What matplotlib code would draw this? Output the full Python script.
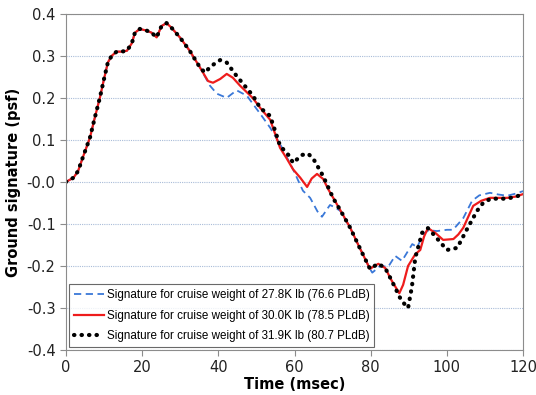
import numpy as np
import matplotlib.pyplot as plt

# shared front part of the signature (all three cases overlap here)
t_front = [0, 2, 3.2, 4.5, 6.3, 7.5, 8.9, 10, 11, 12, 13.3, 14.5, 16, 17.3, 18.1,
           19.4, 21.2, 22.5, 23.8, 25.1, 26.4, 27.7, 29.9, 32.5, 35.2]
p_front = [0, 0.01, 0.026, 0.06, 0.105, 0.15, 0.2, 0.245, 0.284, 0.30, 0.31, 0.31,
           0.312, 0.33, 0.355, 0.364, 0.36, 0.355, 0.344, 0.371, 0.378, 0.367,
           0.344, 0.312, 0.272]

# 27.8K lb
t_278 = [37.8, 39.6, 42.2, 44.8, 47.5, 51, 53.6, 56.5, 59.6, 62.2, 64.1, 66, 67.2,
         69.3, 70.5, 72, 74.6, 77, 79.8, 80.4, 82.5, 84.6, 86.4, 88.2, 90.9, 92.2,
         93.8, 95.2, 97.4, 100, 101.6, 104.3, 106.6, 108.5, 111.3, 113.5, 115.8,
         118, 120]
p_278 = [0.229, 0.21, 0.2, 0.218, 0.205, 0.162, 0.129, 0.085, 0.03, -0.021, -0.038,
         -0.07, -0.083, -0.055, -0.06, -0.069, -0.109, -0.155, -0.207, -0.216, -0.2,
         -0.202, -0.176, -0.188, -0.148, -0.155, -0.124, -0.115, -0.117, -0.114,
         -0.114, -0.086, -0.045, -0.032, -0.026, -0.03, -0.033, -0.028, -0.022]

# 30.0K lb
t_300 = [37.3, 38.6, 40.5, 42.2, 43.8, 45.7, 49, 51, 53.6, 56.2, 58, 59.6, 61.5,
         63.3, 64.5, 65.9, 67.5, 69, 70.6, 72.5, 74.6, 77, 79.8, 81, 82, 83.8, 85.5,
         87.5, 88.5, 89.8, 91.7, 93, 94, 95, 96.9, 99, 101.7, 103, 104.3, 106.9, 109,
         111.3, 115.8, 118, 120]
p_300 = [0.24, 0.236, 0.245, 0.257, 0.248, 0.229, 0.2, 0.176, 0.148, 0.081, 0.055,
         0.03, 0.01, -0.012, 0.008, 0.019, 0.007, -0.02, -0.045, -0.075, -0.109,
         -0.155, -0.207, -0.2, -0.195, -0.205, -0.235, -0.265, -0.245, -0.2, -0.172,
         -0.162, -0.13, -0.11, -0.121, -0.138, -0.136, -0.125, -0.109, -0.057,
         -0.045, -0.038, -0.038, -0.035, -0.029]

# 31.9K lb
t_319 = [36.5, 38, 40.5, 42.2, 44.8, 47, 49.1, 51, 53.6, 56.2, 58.8, 59.6, 61.9,
         63.6, 65, 67.5, 70.1, 72.5, 74.6, 77, 79.8, 81, 82, 83.8, 85.5, 87.7, 88.8,
         89.8, 90.8, 91.7, 93.5, 95, 96.5, 98.2, 100, 102.7, 105.3, 107.9, 109.5,
         111.5, 115.8, 118, 120]
p_319 = [0.26, 0.275, 0.29, 0.284, 0.252, 0.228, 0.205, 0.176, 0.157, 0.086, 0.06,
         0.045, 0.064, 0.067, 0.054, 0.014, -0.038, -0.075, -0.109, -0.155, -0.207,
         -0.2, -0.195, -0.205, -0.235, -0.276, -0.29, -0.30, -0.25, -0.18, -0.121,
         -0.11, -0.125, -0.143, -0.162, -0.157, -0.112, -0.069, -0.05, -0.04, -0.04,
         -0.035, -0.03]

labels = ['Signature for cruise weight of 27.8K lb (76.6 PLdB)',
          'Signature for cruise weight of 30.0K lb (78.5 PLdB)',
          'Signature for cruise weight of 31.9K lb (80.7 PLdB)']

fig = plt.figure(figsize=(5.36, 3.95), dpi=100)
ax = fig.add_axes([0.123, 0.114, 0.853, 0.851])

ax.plot(t_front + t_278, p_front + p_278, color='#3a78d8', lw=1.3,
        ls=(0, (4, 2.5)), label=labels[0])
ax.plot(t_front + t_300, p_front + p_300, color='#ee1c1c', lw=1.6,
        label=labels[1])
ax.plot(t_front + t_319, p_front + p_319, color='black', lw=3,
        ls=(0, (0.1, 1.7)), dash_capstyle='round', label=labels[2])

ax.set_xlim(0, 120)
ax.set_ylim(-0.4, 0.4)
ax.set_xticks(np.arange(0, 121, 20))
ax.set_yticks(np.arange(-0.4, 0.41, 0.1))
ax.set_yticklabels(['%.1f' % v for v in np.arange(-0.4, 0.41, 0.1)])
ax.yaxis.grid(True, color='#a9bcd8', lw=0.8, ls=(0, (1, 1)))
ax.set_axisbelow(True)
for s in ax.spines.values():
    s.set_color('#8c8c8c')
ax.tick_params(colors='#8c8c8c', labelcolor='#222222', labelsize=10.5, length=4)

ax.set_xlabel('Time (msec)', fontweight='bold', fontsize=10.5, labelpad=1)
ax.set_ylabel('Ground signature (psf)', fontweight='bold', fontsize=10.5, labelpad=4)

leg = ax.legend(loc='lower left', frameon=True, fancybox=False,
                borderpad=0.4, labelspacing=0.75, handlelength=2.6,
                handletextpad=0.25, borderaxespad=0.25,
                prop={'family': 'Liberation Sans', 'size': 8.4})
leg.get_frame().set_edgecolor('#444444')
leg.get_frame().set_linewidth(0.8)

fig.savefig('out.png', dpi=100)
